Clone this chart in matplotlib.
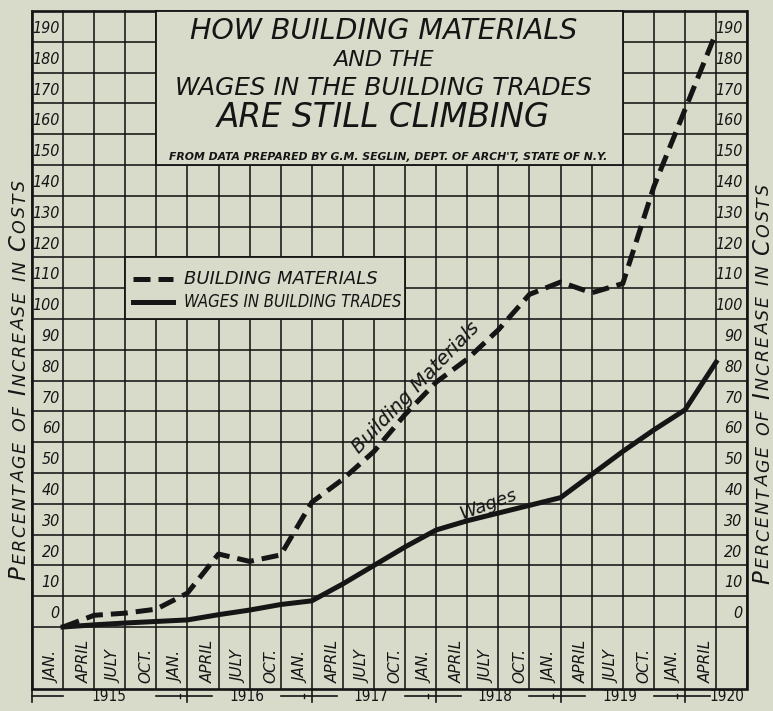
import matplotlib
matplotlib.use('Agg')
import matplotlib.pyplot as plt
from matplotlib.patches import Rectangle

# quarters from Jan 1915 to April 1920
months = ['JAN.', 'APRIL', 'JULY', 'OCT.'] * 5 + ['JAN.', 'APRIL']
years = ['1915', '1916', '1917', '1918', '1919', '1920']
materials = [0, 3.8, 4.5, 5.8, 11, 23.7, 21.3, 23.4, 40.5, 48, 57, 69, 79.5, 87,
             96.5, 108, 112, 108.5, 111.5, 143, 168, 193]
wages = [0, 0.7, 1.3, 1.8, 2.3, 4, 5.5, 7.3, 8.5, 14, 20, 26, 31.5, 34.5,
         37, 39.5, 42, 49.5, 57, 64, 70.5, 86]
y_ticks = list(range(0, 200, 10))

title_lines = ['HOW BUILDING MATERIALS', 'AND THE', 'WAGES IN THE BUILDING TRADES',
               'ARE STILL CLIMBING']
source = "FROM DATA PREPARED BY G.M. SEGLIN, DEPT. OF ARCH'T, STATE OF N.Y."
legend_labels = ['BUILDING MATERIALS', 'WAGES IN BUILDING TRADES']
axis_words = ['PERCENTAGE', 'OF', 'INCREASE', 'IN', 'COSTS']

paper = '#d8dbca'
ink = '#151515'

fig = plt.figure(figsize=(7.73, 7.11), dpi=100)
fig.patch.set_facecolor(paper)
ax = fig.add_axes([0, 0, 1, 1])
ax.set_facecolor(paper)
ax.set_xlim(-2.026, 22.83)
ax.set_ylim(-27.27, 203.57)
ax.axis('off')

x = list(range(len(months)))
left, right = -1, len(months)
top, bottom = 200, -20

# grid paper
for i in range(left, right + 1):
    ax.plot([i, i], [bottom, top], color=ink, lw=1.15, zorder=1)
for v in y_ticks:
    ax.plot([left, right], [v, v], color=ink, lw=1.15, zorder=1)
ax.add_patch(Rectangle((left, bottom), right - left, top - bottom, fill=False,
                       ec=ink, lw=1.9, zorder=2))

# title box and legend box cover the grid
ax.add_patch(Rectangle((3, 150), 15, 50, fc=paper, ec=ink, lw=1.3, zorder=3))
ax.add_patch(Rectangle((2, 100), 9, 20, fc=paper, ec=ink, lw=1.3, zorder=3))

# the two curves
ax.plot(x, materials, color=ink, lw=3.6, dashes=(3.4, 1.6), zorder=4)
ax.plot(x, wages, color=ink, lw=3.6, solid_joinstyle='round', zorder=4)

# legend
ax.plot([2.25, 3.55], [113, 113], color=ink, lw=3.6, dashes=(3.4, 1.6), zorder=5)
ax.plot([2.25, 3.55], [105.5, 105.5], color=ink, lw=3.6, zorder=5)
ax.text(3.9, 113, legend_labels[0], fontsize=13, style='italic', color=ink,
        ha='left', va='center', zorder=5)
ax.text(3.9, 105.5, legend_labels[1], fontsize=12, style='italic', color=ink,
        ha='left', va='center', fontstretch='condensed', zorder=5)

# title
tx = 10.3
ax.text(tx, 193.6, title_lines[0], fontsize=20.5, style='italic', color=ink,
        ha='center', va='center', zorder=5)
ax.text(tx, 184.2, title_lines[1], fontsize=16, style='italic', color=ink,
        ha='center', va='center', zorder=5)
ax.text(tx, 175, title_lines[2], fontsize=17.8, style='italic', color=ink,
        ha='center', va='center', zorder=5)
ax.text(tx, 165.4, title_lines[3], fontsize=23.5, style='italic', color=ink,
        ha='center', va='center', zorder=5)
ax.text(10.45, 152.6, source, fontsize=7.8, style='italic', weight='bold',
        color=ink, ha='center', va='center', zorder=5)

# curve names
ax.text(11.35, 77.8, 'Building Materials', fontsize=14, style='italic', color=ink,
        rotation=46, rotation_mode='anchor', ha='center', va='center', zorder=5)
ax.text(13.66, 39.8, 'Wages', fontsize=13, style='italic', color=ink,
        rotation=20, rotation_mode='anchor', ha='center', va='center', zorder=5)

# value labels in both side columns
for v in y_ticks:
    ax.text(-0.1, v + 4.3, str(v), fontsize=11.5, style='italic', color=ink,
            fontstretch='condensed', ha='right', va='center', zorder=5)
    ax.text(21.85, v + 4.3, str(v), fontsize=11.5, style='italic', color=ink,
            fontstretch='condensed', ha='right', va='center', zorder=5)

# month labels, each in the cell left of its line
for i, m in enumerate(months):
    ax.text(i - 0.32, -18.3, m, fontsize=11, style='italic', color=ink,
            rotation=90, ha='center', va='bottom', zorder=5)

# year row
yr = -22.4
ax.plot([left, 0], [yr, yr], color=ink, lw=1.2)
ax.plot([left, left], [bottom, -24.5], color=ink, lw=1.2)
year_x = [1.47]
for k in range(1, 6):
    j = 4 * k
    ax.plot([j - 1.0, j + 0.8], [yr, yr], color=ink, lw=1.2)
    ax.plot([j, j], [-20, -24.2], color=ink, lw=1.2)
    ax.plot([j - 0.25, j - 0.25], [-21.6, -23.2], color=ink, lw=1.0)
    year_x.append(j + 1.9 if k < 5 else j + 1.35)
for yx, label in zip(year_x, years):
    ax.text(yx, yr, label, fontsize=11, color=ink, fontstretch='condensed',
            ha='center', va='center')

# side titles in small caps, reading upward, letter by letter
r = fig.canvas.get_renderer()
px_unit = (ax.transData.transform((0, 10))[1] - ax.transData.transform((0, 0))[1]) / 10
big, small = 16.5, 12.5
track = 2.0


def side_title(xpos, ystart):
    y = ystart
    for w in axis_words:
        for n, c in enumerate(w):
            size = big if (n == 0 and w not in ('OF', 'IN')) else small
            t = ax.text(xpos, y, c, fontsize=size, style='italic', color=ink,
                        rotation=90, rotation_mode='anchor', ha='left',
                        va='baseline')
            bb = t.get_window_extent(r)
            y += (bb.height + track) / px_unit
        y += 0.5 * small * 100 / 72 / px_unit


side_title(-1.22, 15.3)
side_title(22.7, 14.0)

fig.savefig('out.png', dpi=100, facecolor=paper)
